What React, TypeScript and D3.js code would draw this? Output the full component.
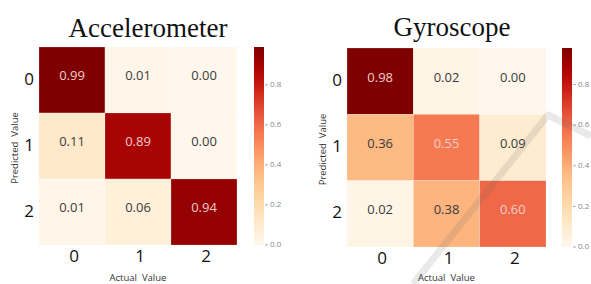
import React from "react";
import * as d3 from "d3";

const classes = ["0", "1", "2"];
const accelValues = [
  [0.99, 0.01, 0.0],
  [0.11, 0.89, 0.0],
  [0.01, 0.06, 0.94],
];
const gyroValues = [
  [0.98, 0.02, 0.0],
  [0.36, 0.55, 0.09],
  [0.02, 0.38, 0.6],
];
const colorbarTicks = [0, 0.2, 0.4, 0.6, 0.8];

type PanelProps = {
  title: string;
  values: number[][];
  x0: number;
  y0: number;
  size: number;
  cbX: number;
  titleX: number;
  titleY: number;
  yLabelX: number;
  xLabelY: number;
};

function Panel({ title, values, x0, y0, size, cbX, titleX, titleY, yLabelX, xLabelY }: PanelProps) {
  const vmax = d3.max(values.flat()) as number;
  const color = d3.scaleSequential(d3.interpolateOrRd).domain([0, vmax]);
  const x = d3.scaleBand().domain(classes).range([x0, x0 + size]);
  const y = d3.scaleBand().domain(classes).range([y0, y0 + size]);
  const cb = d3.scaleLinear().domain([0, vmax]).range([y0 + size, y0]);
  const gradId = "grad-" + title;
  const stops = d3.range(0, 1.0001, 0.05);
  return (
    <g>
      <defs>
        <linearGradient id={gradId} x1="0" y1="1" x2="0" y2="0">
          {stops.map((t) => (
            <stop key={t} offset={t} stopColor={d3.interpolateOrRd(t)} />
          ))}
        </linearGradient>
      </defs>
      <text x={titleX} y={titleY} textAnchor="middle" fontFamily="'Liberation Serif', 'Times New Roman', serif" fontSize={27} fill="#111">
        {title}
      </text>
      {values.map((row, i) =>
        row.map((v, j) => {
          const cx = (x(classes[j]) as number) + x.bandwidth() / 2;
          const cy = (y(classes[i]) as number) + y.bandwidth() / 2;
          const dark = v / vmax > 0.5;
          return (
            <g key={i + "-" + j}>
              <rect
                x={x(classes[j])}
                y={y(classes[i])}
                width={x.bandwidth()}
                height={y.bandwidth()}
                fill={color(v)}
                stroke="rgba(255,255,255,0.35)"
                strokeWidth={0.6}
              />
              <text
                x={cx}
                y={cy - 3}
                textAnchor="middle"
                dominantBaseline="middle"
                fontFamily="'Open Sans', sans-serif"
                fontSize={13}
                fill={dark ? "#f0cccc" : "#3a3a3a"}
              >
                {v.toFixed(2)}
              </text>
            </g>
          );
        })
      )}
      {classes.map((c) => (
        <text
          key={"y" + c}
          x={x0 - 10}
          y={(y(c) as number) + y.bandwidth() / 2}
          textAnchor="middle"
          dominantBaseline="middle"
          fontFamily="'Open Sans', sans-serif"
          fontSize={17}
          fill="#111"
        >
          {c}
        </text>
      ))}
      {classes.map((c) => (
        <text
          key={"x" + c}
          x={(x(c) as number) + x.bandwidth() / 2 + 2}
          y={y0 + size + 17}
          textAnchor="middle"
          fontFamily="'Open Sans', sans-serif"
          fontSize={17}
          fill="#111"
        >
          {c}
        </text>
      ))}
      <text
        transform={`translate(${yLabelX},${y0 + size / 2 + 2}) rotate(-90)`}
        textAnchor="middle"
        dominantBaseline="middle"
        fontFamily="'Open Sans', sans-serif"
        fontSize={9.5}
        fill="#333"
        style={{ whiteSpace: "pre" }}
      >
        {"Predicted  Value"}
      </text>
      <text
        x={x0 + size / 2}
        y={xLabelY}
        textAnchor="middle"
        fontFamily="'Open Sans', sans-serif"
        fontSize={9.5}
        fill="#333"
        style={{ whiteSpace: "pre" }}
      >
        {"Actual  Value"}
      </text>
      <rect x={cbX} y={y0} width={10} height={size} fill={`url(#${gradId})`} />
      {colorbarTicks.map((t) => (
        <g key={t}>
          <line x1={cbX + 11} x2={cbX + 14} y1={cb(t)} y2={cb(t)} stroke="#999" strokeWidth={0.8} />
          <text
            x={cbX + 16}
            y={cb(t)}
            dominantBaseline="middle"
            fontFamily="'Open Sans', sans-serif"
            fontSize={8}
            fill="#888"
          >
            {t.toFixed(1)}
          </text>
        </g>
      ))}
    </g>
  );
}

export default function App() {
  return (
    <svg width={591} height={284} style={{ position: "absolute", left: 0, top: 0, background: "#fff" }}>
      <rect width={591} height={284} fill="#fff" />
      <Panel
        title="Accelerometer"
        values={accelValues}
        x0={39}
        y0={47}
        size={198}
        cbX={254}
        titleX={148}
        titleY={37}
        yLabelX={15}
        xLabelY={281}
      />
      <Panel
        title="Gyroscope"
        values={gyroValues}
        x0={347}
        y0={48}
        size={199}
        cbX={562}
        titleX={452}
        titleY={36}
        yLabelX={323}
        xLabelY={281}
      />
      <polyline
        points="413,284 548,115 591,136"
        fill="none"
        stroke="#666"
        strokeOpacity={0.14}
        strokeWidth={7}
        strokeLinejoin="round"
      />
    </svg>
  );
}
